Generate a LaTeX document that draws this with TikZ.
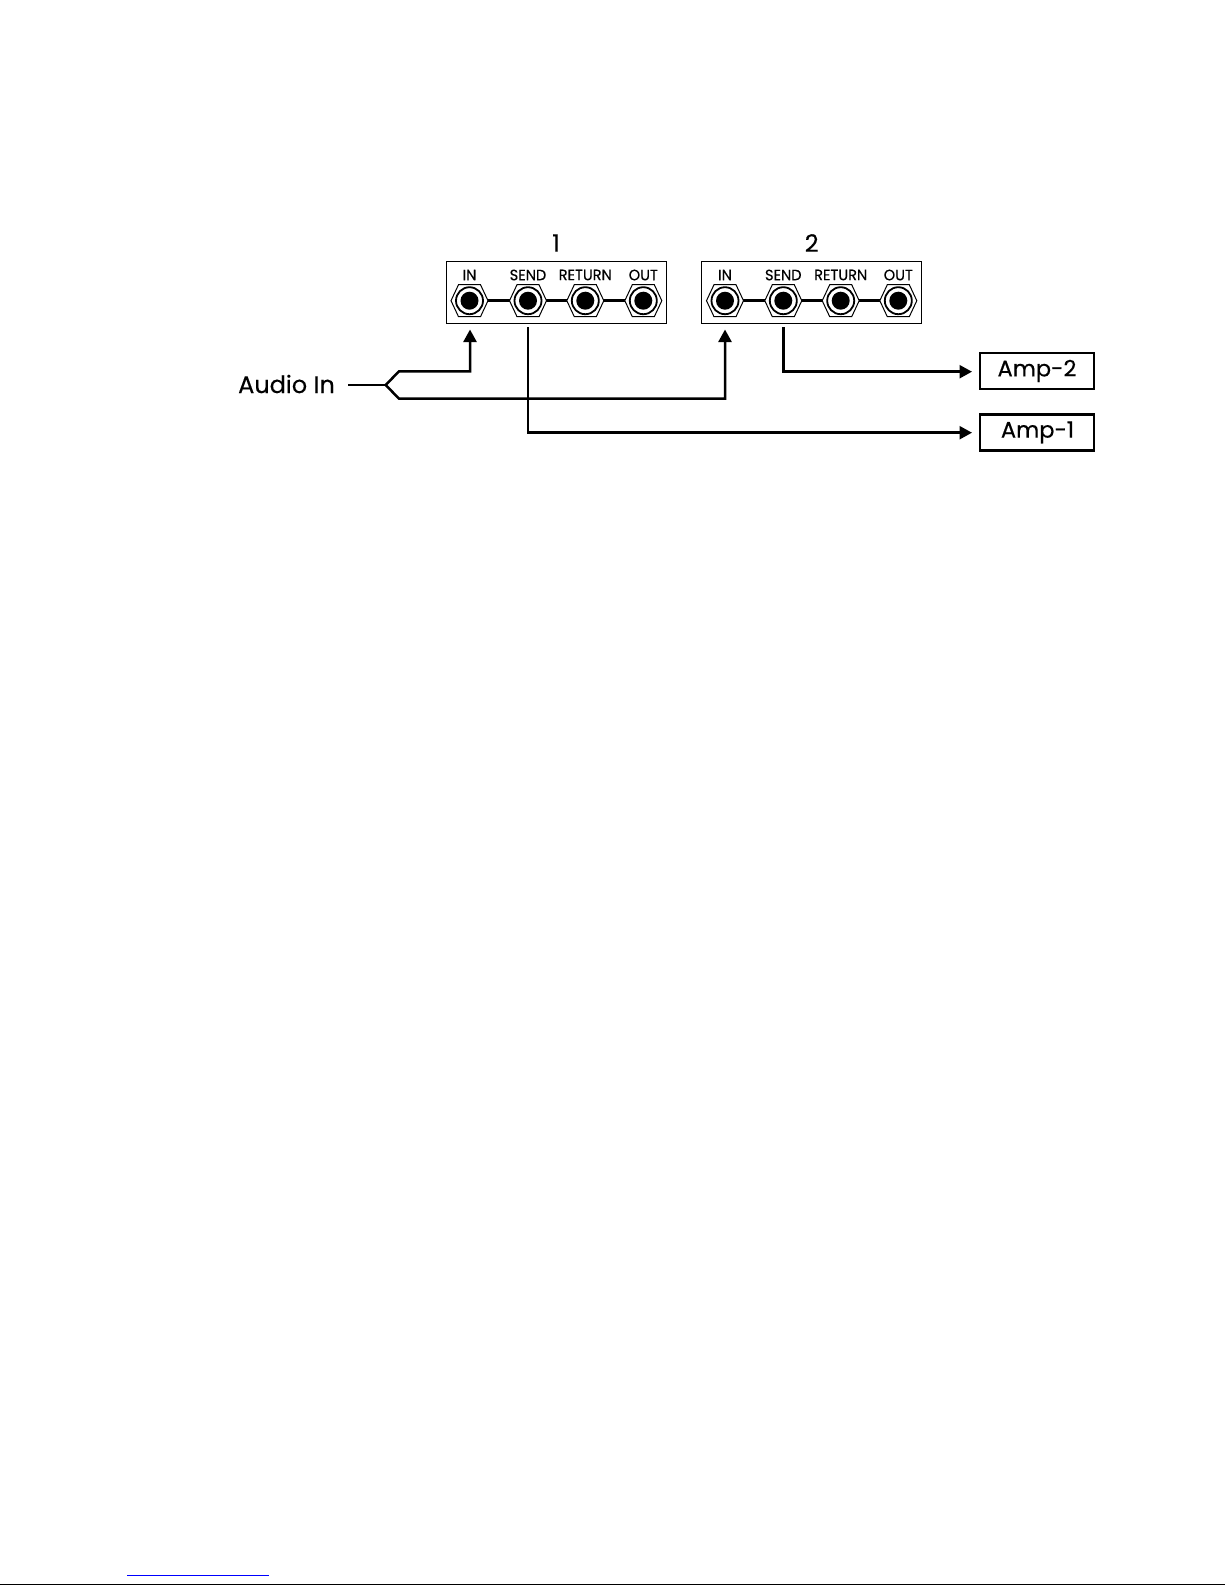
\documentclass[tikz,border=0pt]{standalone}
\usepackage{fontspec}
\setmainfont{Poppins}
\newfontfamily\heavyfont[FakeBold=0.35]{Poppins}
\usetikzlibrary{arrows.meta,calc}
\tikzset{
  wire/.style={line width=2.5pt,line join=miter},
  arrowed/.style={wire,-{Triangle[length=12.5pt,width=13pt]}},
  panel/.style={draw=black,line width=1.2pt,fill=white,minimum width=220pt,minimum height=62.5pt,inner sep=0pt},
  ampbox/.style={draw=black,line width=2.4pt,minimum width=113.5pt,minimum height=36pt,inner sep=0pt},
  amptext/.style={inner sep=0pt,font=\heavyfont\fontsize{22.5}{24}\selectfont},
  panellabel/.style={inner sep=0pt,font=\heavyfont\fontsize{15}{15}\selectfont,xscale=0.97},
  numlabel/.style={inner sep=0pt,font=\heavyfont\fontsize{24}{24}\selectfont},
  jackhole/.style={circle,fill=black,minimum size=18pt,inner sep=0pt},
  jackring/.style={draw=black,line width=1.8pt,fill=white},
  jackhex/.style={draw=black,line width=1pt,fill=white,line join=miter},
}
\newcommand{\jack}[3]{%
  \coordinate (#1) at (#2,#3);
  \draw[jackhex] ($(#1)+(-18.5,0)$) -- ++(7.5,-16) -- ++(22,0) -- ++(7.5,16) -- ++(-7.5,16) -- ++(-22,0) -- cycle;
  \draw[jackring] (#1) circle[radius=13.5pt];
  \node[jackhole] at (#1) {};
}
\begin{document}
\begin{tikzpicture}[x=1pt,y=-1pt]
\useasboundingbox (0,0) rectangle (1225,1585);
\fill[white] (0,0) rectangle (1225,1585);

% panels
\node[panel] (p1) at (556.5,292.5) {};
\node[panel] (p2) at (811.7,292.5) {};
\node[numlabel] (n1) at (556,243) {1};
\node[numlabel] (n2) at (811.7,243) {2};

% bars behind the jacks
\draw[line width=3.4pt] (469.5,300.7) -- (643.3,300.7);
\draw[line width=3.4pt] (725,300.7) -- (898.3,300.7);

% jacks
\jack{a1}{469.5}{300.7}\jack{a2}{528}{300.7}\jack{a3}{585.3}{300.7}\jack{a4}{643.3}{300.7}
\jack{b1}{725}{300.7}\jack{b2}{783.3}{300.7}\jack{b3}{840.7}{300.7}\jack{b4}{898.3}{300.7}

% jack labels
\node[panellabel] (la1) at (469.5,275) {IN};
\node[panellabel] (la2) at (528,275) {SEND};
\node[panellabel] (la3) at (585.3,275) {RETURN};
\node[panellabel] (la4) at (643.3,275) {OUT};
\node[panellabel] (lb1) at (725,275) {IN};
\node[panellabel] (lb2) at (783.3,275) {SEND};
\node[panellabel] (lb3) at (840.7,275) {RETURN};
\node[panellabel] (lb4) at (898.3,275) {OUT};

% amps and input
\node[ampbox] (amp2) at (1037,371) {};
\node[ampbox] (amp1) at (1037,432.4) {};
\node[amptext] (t2) at (1037,371) {Amp-2};
\node[amptext] (t1) at (1037.5,432.4) {Amp-1};
\node[inner sep=0pt,font=\heavyfont\fontsize{24}{24}\selectfont] (audio) at (286.5,384) {Audio In};

% free ends of connectors
\coordinate (start) at (348,385);
\coordinate (fork) at (385.7,385);
\coordinate (tipa) at (470,329.5);
\coordinate (tipb) at (725,329.5);
\coordinate (senda) at (528,327);
\coordinate (sendb) at (783.3,327);
\coordinate (tipamp2) at (972,371.7);
\coordinate (tipamp1) at (972,432.7);

\draw[wire] (start) -- (fork);
\draw[arrowed] (fork) -- (399,371.3) -- (tipa |- 0,371.3) -- (tipa);
\draw[arrowed] (fork) -- (399,398.7) -- (tipb |- 0,398.7) -- (tipb);
\draw[arrowed] (senda) -- (senda |- tipamp1) -- (tipamp1);
\draw[arrowed] (sendb) -- (sendb |- tipamp2) -- (tipamp2);

% page rules
\draw[draw=blue,line width=1.2pt] (127,1575.4) -- (269,1575.4);
\draw[draw=black,line width=1.4pt] (0,1584.2) -- (1225,1584.2);
\end{tikzpicture}
\end{document}
